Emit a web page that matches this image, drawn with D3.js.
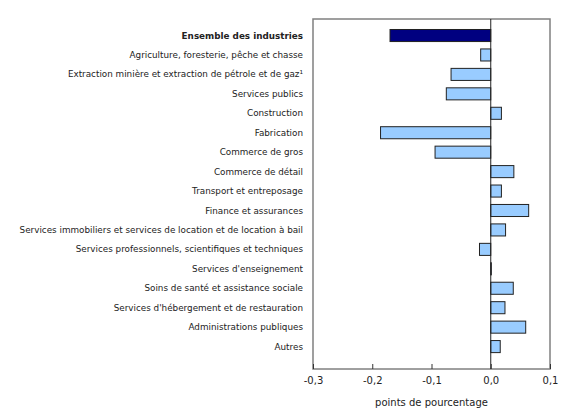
<!DOCTYPE html>
<html>
<head>
<meta charset="utf-8">
<script src="https://cdn.jsdelivr.net/npm/d3@7"></script>
<style>
  body { margin: 0; background: #fff; }
  text { font-family: "DejaVu Sans", Verdana, sans-serif; fill: #222; }
</style>
</head>
<body>
<div id="chart"></div>
<script>
var width = 580;
var height = 410;

var categories = [
    "Ensemble des industries",
    "Agriculture, foresterie, pêche et chasse",
    "Extraction minière et extraction de pétrole et de gaz¹",
    "Services publics",
    "Construction",
    "Fabrication",
    "Commerce de gros",
    "Commerce de détail",
    "Transport et entreposage",
    "Finance et assurances",
    "Services immobiliers et services de location et de location à bail",
    "Services professionnels, scientifiques et techniques",
    "Services d'enseignement",
    "Soins de santé et assistance sociale",
    "Services d'hébergement et de restauration",
    "Administrations publiques",
    "Autres"
];
var values = [-0.17, -0.017, -0.067, -0.075, 0.018, -0.186, -0.094, 0.039, 0.018,
    0.064, 0.025, -0.019, 0.001, 0.038, 0.024, 0.059, 0.016];
var tickValues = [-0.3, -0.2, -0.1, 0.0, 0.1];
var tickLabels = ["-0,3", "-0,2", "-0,1", "0,0", "0,1"];

var plot = { left: 313, right: 550, top: 19, bottom: 369 };

var svg = d3.select("#chart").append("svg")
    .attr("width", width)
    .attr("height", height);

var x = d3.scaleLinear()
    .domain([-0.3, 0.1])
    .range([plot.left, plot.right]);

// band centres line up with the reference rows
var y = d3.scaleBand()
    .domain(categories)
    .range([25.8, 356.3])
    .paddingInner(0.38)
    .paddingOuter(0.19);

// bars
svg.selectAll(".bar")
    .data(values)
    .enter()
    .append("rect")
    .attr("class", "bar")
    .attr("x", function(d) { return x(Math.min(0, d)); })
    .attr("y", function(d, i) { return y(categories[i]); })
    .attr("width", function(d) { return Math.abs(x(d) - x(0)); })
    .attr("height", y.bandwidth())
    .attr("fill", function(d, i) { return i === 0 ? "#000080" : "#99ccff"; })
    .attr("stroke", "#222")
    .attr("stroke-width", 1);

// frame
svg.append("rect")
    .attr("x", plot.left)
    .attr("y", plot.top)
    .attr("width", plot.right - plot.left)
    .attr("height", plot.bottom - plot.top)
    .attr("fill", "none")
    .attr("stroke", "#808080")
    .attr("stroke-width", 1.5);

// zero line
svg.append("line")
    .attr("x1", x(0))
    .attr("x2", x(0))
    .attr("y1", plot.top)
    .attr("y2", plot.bottom)
    .attr("stroke", "#222")
    .attr("stroke-width", 1);

// x axis
var xAxis = d3.axisBottom(x)
    .tickValues(tickValues)
    .tickSize(-5)
    .tickFormat(function(d, i) { return tickLabels[i]; });

var gx = svg.append("g")
    .attr("transform", "translate(0," + plot.bottom + ")")
    .call(xAxis);
gx.select(".domain").remove();
gx.selectAll(".tick line").attr("stroke", "#333");
gx.selectAll(".tick text")
    .attr("y", 8)
    .attr("dy", "0.71em")
    .style("font-size", "10px")
    .style("font-family", "DejaVu Sans, Verdana, sans-serif")
    .attr("fill", "#222");

svg.append("text")
    .attr("x", (plot.left + plot.right) / 2)
    .attr("y", 406)
    .attr("text-anchor", "middle")
    .attr("font-size", "10px")
    .text("points de pourcentage");

// category labels
svg.selectAll(".label")
    .data(categories)
    .enter()
    .append("text")
    .attr("class", "label")
    .attr("x", 303)
    .attr("y", function(d) { return y(d) + y.bandwidth() / 2; })
    .attr("dy", "0.35em")
    .attr("text-anchor", "end")
    .attr("font-size", "8.8px")
    .attr("font-weight", function(d, i) { return i === 0 ? "bold" : "normal"; })
    .text(function(d) { return d; });
</script>
</body>
</html>
